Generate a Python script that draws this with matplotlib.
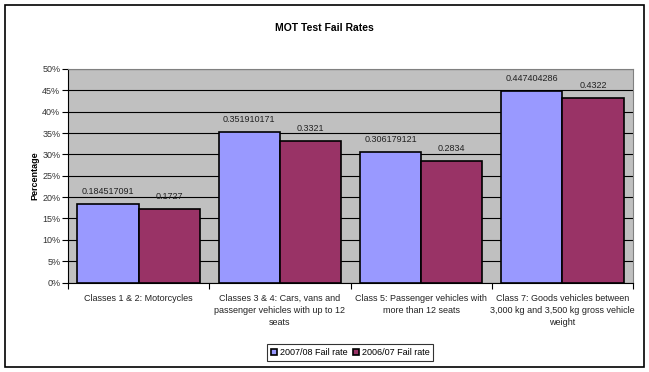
import matplotlib.pyplot as plt
from matplotlib.patches import Rectangle
from matplotlib.ticker import FuncFormatter, MultipleLocator
import numpy as np

plt.rcParams['font.family'] = ['Liberation Sans', 'DejaVu Sans']

categories = [
    'Classes 1 & 2: Motorcycles',
    'Classes 3 & 4: Cars, vans and\npassenger vehicles with up to 12\nseats',
    'Class 5: Passenger vehicles with\nmore than 12 seats',
    'Class 7: Goods vehicles between\n3,000 kg and 3,500 kg gross vehicle\nweight',
]
rate_2007 = [0.184517091, 0.351910171, 0.306179121, 0.447404286]
rate_2006 = [0.1727, 0.3321, 0.2834, 0.4322]
series_names = ['2007/08 Fail rate', '2006/07 Fail rate']

W, H = 649, 372
fig = plt.figure(figsize=(W / 100, H / 100), dpi=100)
fig.patches.append(Rectangle((5 / W, 5 / H), 639 / W, 362 / H,
                             transform=fig.transFigure, fill=False,
                             edgecolor='black', linewidth=1.2))

# plot area in pixels: x 68..633, y 69..282.5
ax = fig.add_axes([68 / W, 1 - 282.5 / H, 565 / W, 213.5 / H])
ax.set_facecolor('#C0C0C0')

x = np.arange(len(categories))
w = 0.434
b1 = ax.bar(x - w / 2, rate_2007, w, color='#9999FF', edgecolor='black', linewidth=1.2,
            label=series_names[0], zorder=3)
b2 = ax.bar(x + w / 2, rate_2006, w, color='#993366', edgecolor='black', linewidth=1.2,
            label=series_names[1], zorder=3)

for bars, vals in ((b1, rate_2007), (b2, rate_2006)):
    for rect, v in zip(bars, vals):
        ax.annotate(str(v), (rect.get_x() + rect.get_width() / 2, v),
                    xytext=(0, 9), textcoords='offset points',
                    ha='center', va='center', fontsize=6.5, color='#222222')

ax.set_xlim(-0.5, len(categories) - 0.5)
ax.set_ylim(0, 0.5)
ax.yaxis.set_major_locator(MultipleLocator(0.05))
ax.yaxis.set_major_formatter(FuncFormatter(lambda v, _: f'{v * 100:.0f}%'))
ax.grid(axis='y', color='black', linewidth=0.8, zorder=0)
ax.set_axisbelow(True)

ax.set_xticks(np.arange(len(categories) + 1) - 0.5)
ax.set_xticklabels([])
ax.set_xticks(x, minor=True)
ax.set_xticklabels(categories, minor=True, fontsize=6.5, linespacing=1.45,
                   color='#222222')
ax.tick_params(axis='x', which='minor', length=0, pad=8)
ax.tick_params(axis='x', which='major', length=4, direction='out')
ax.tick_params(axis='y', labelsize=6.5, length=4, direction='out', pad=1.5,
               labelcolor='#333333')

for side in ('top', 'right'):
    ax.spines[side].set_color('#808080')
ax.spines['left'].set_color('black')
ax.spines['bottom'].set_color('black')

fig.text(35 / W, 1 - 175.5 / H, 'Percentage', rotation=90, ha='center', va='center',
         fontsize=6.5, fontweight='bold')
fig.text(0.5, 1 - 28 / H, 'MOT Test Fail Rates', ha='center', va='center',
         fontsize=7.5, fontweight='bold')

leg = fig.legend(loc='center', bbox_to_anchor=(350 / W, 1 - 352.5 / H), ncol=2,
                 fontsize=6.5, frameon=True, fancybox=False, edgecolor='black',
                 handlelength=0.7, handleheight=0.7, handletextpad=0.3,
                 columnspacing=0.6, borderpad=0.4)
leg.get_frame().set_linewidth(0.8)

fig.savefig('out.png', dpi=100)
